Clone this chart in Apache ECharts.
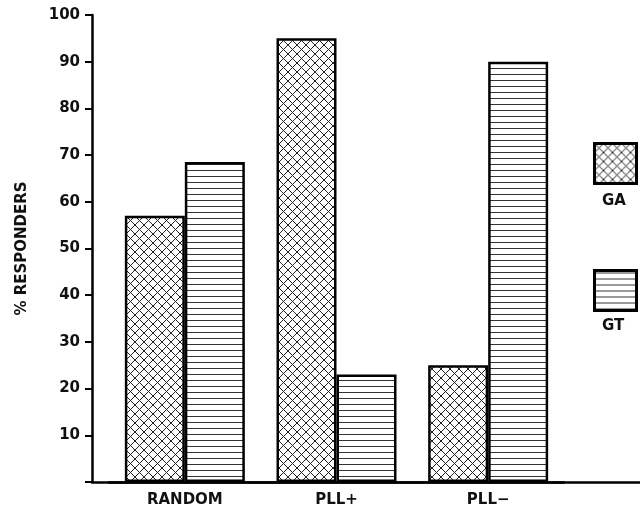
<!DOCTYPE html>
<html>
<head>
<meta charset="utf-8">
<script src="https://cdn.jsdelivr.net/npm/echarts@6/dist/echarts.min.js"></script>
<style>html,body{margin:0;padding:0;background:#fff}#c{width:640px;height:512px}</style>
</head>
<body>
<div id="c"></div>
<script>
const categories = ['RANDOM', 'PLL+', 'PLL\u2212'];
const seriesNames = ['GA', 'GT'];
const gaValues = [57, 95, 25];
const gtValues = [68.5, 23, 90];
const yTicks = [0, 10, 20, 30, 40, 50, 60, 70, 80, 90, 100];

function crossHatch() {
  const c = document.createElement('canvas');
  c.width = 9; c.height = 9;
  const g = c.getContext('2d');
  g.fillStyle = '#fff'; g.fillRect(0, 0, 9, 9);
  g.strokeStyle = '#222'; g.lineWidth = 1;
  g.beginPath();
  g.moveTo(0, 0); g.lineTo(9, 9);
  g.moveTo(9, 0); g.lineTo(0, 9);
  g.stroke();
  return c;
}
function hLines() {
  const c = document.createElement('canvas');
  c.width = 8; c.height = 6;
  const g = c.getContext('2d');
  g.fillStyle = '#fff'; g.fillRect(0, 0, 8, 6);
  g.fillStyle = '#333'; g.fillRect(0, 2, 8, 1);
  return c;
}
const gaFill = { image: crossHatch(), repeat: 'repeat' };
const gtFill = { image: hLines(), repeat: 'repeat' };

const font = '"DejaVu Sans", sans-serif';
const textStyle = { fill: '#111', font: 'bold 15px "DejaVu Sans", sans-serif', textAlign: 'center', textVerticalAlign: 'middle' };
const legendBase = {
  orient: 'vertical', itemWidth: 42, itemHeight: 40, icon: 'rect', selectedMode: false,
  itemGap: 0, padding: 0,
  itemStyle: { borderColor: '#000', borderWidth: 3 },
  formatter: () => '',
  textStyle: { fontSize: 1, padding: 0 }
};
const chart = echarts.init(document.getElementById('c'));
chart.setOption({
  animation: false,
  backgroundColor: '#fff',
  grid: [
    { left: 109, right: 76, top: 15, bottom: 30 },
    { left: 92, right: 0, top: 15, bottom: 30 }
  ],
  xAxis: [
    {
      type: 'category', data: categories, gridIndex: 0,
      axisLine: { lineStyle: { color: '#000', width: 2.5 } },
      axisTick: { show: false },
      axisLabel: { color: '#111', fontFamily: font, fontWeight: 'bold', fontSize: 15, margin: 11 }
    },
    {
      type: 'value', gridIndex: 1, min: 0, max: 1,
      axisLine: { show: true, lineStyle: { color: '#000', width: 2.5 } },
      axisTick: { show: false }, axisLabel: { show: false }, splitLine: { show: false }
    }
  ],
  yAxis: [
    {
      type: 'value', gridIndex: 0, min: yTicks[0], max: yTicks[yTicks.length - 1], interval: 10,
      offset: 17,
      name: '% RESPONDERS', nameLocation: 'middle', nameGap: 62,
      nameTextStyle: { color: '#111', fontFamily: font, fontWeight: 'bold', fontSize: 15 },
      axisLine: { show: true, lineStyle: { color: '#000', width: 2.5 } },
      axisTick: { show: true, length: 7, lineStyle: { color: '#000', width: 2 } },
      axisLabel: {
        color: '#111', fontFamily: font, fontWeight: 'bold', fontSize: 15, margin: 12,
        formatter: v => (v === 0 ? '' : String(v))
      },
      splitLine: { show: false }
    },
    { type: 'value', gridIndex: 1, show: false, min: 0, max: 1 }
  ],
  legend: [
    Object.assign({}, legendBase, { data: [seriesNames[0]], left: 593, top: 142 }),
    Object.assign({}, legendBase, { data: [seriesNames[1]], left: 593, top: 269 })
  ],
  graphic: [
    { type: 'text', left: 602, top: 194, style: Object.assign({ text: seriesNames[0] }, textStyle) },
    { type: 'text', left: 602, top: 319, style: Object.assign({ text: seriesNames[1] }, textStyle) }
  ],
  series: [
    {
      name: seriesNames[0], type: 'bar', data: gaValues, xAxisIndex: 0, yAxisIndex: 0,
      barWidth: 60, barGap: '0%',
      itemStyle: { color: gaFill, borderColor: '#000', borderWidth: 2.5 },
      emphasis: { disabled: true }
    },
    {
      name: seriesNames[1], type: 'bar', data: gtValues, xAxisIndex: 0, yAxisIndex: 0,
      barWidth: 60, barGap: '0%',
      itemStyle: { color: gtFill, borderColor: '#000', borderWidth: 2.5 },
      emphasis: { disabled: true }
    }
  ]
});
</script>
</body>
</html>
